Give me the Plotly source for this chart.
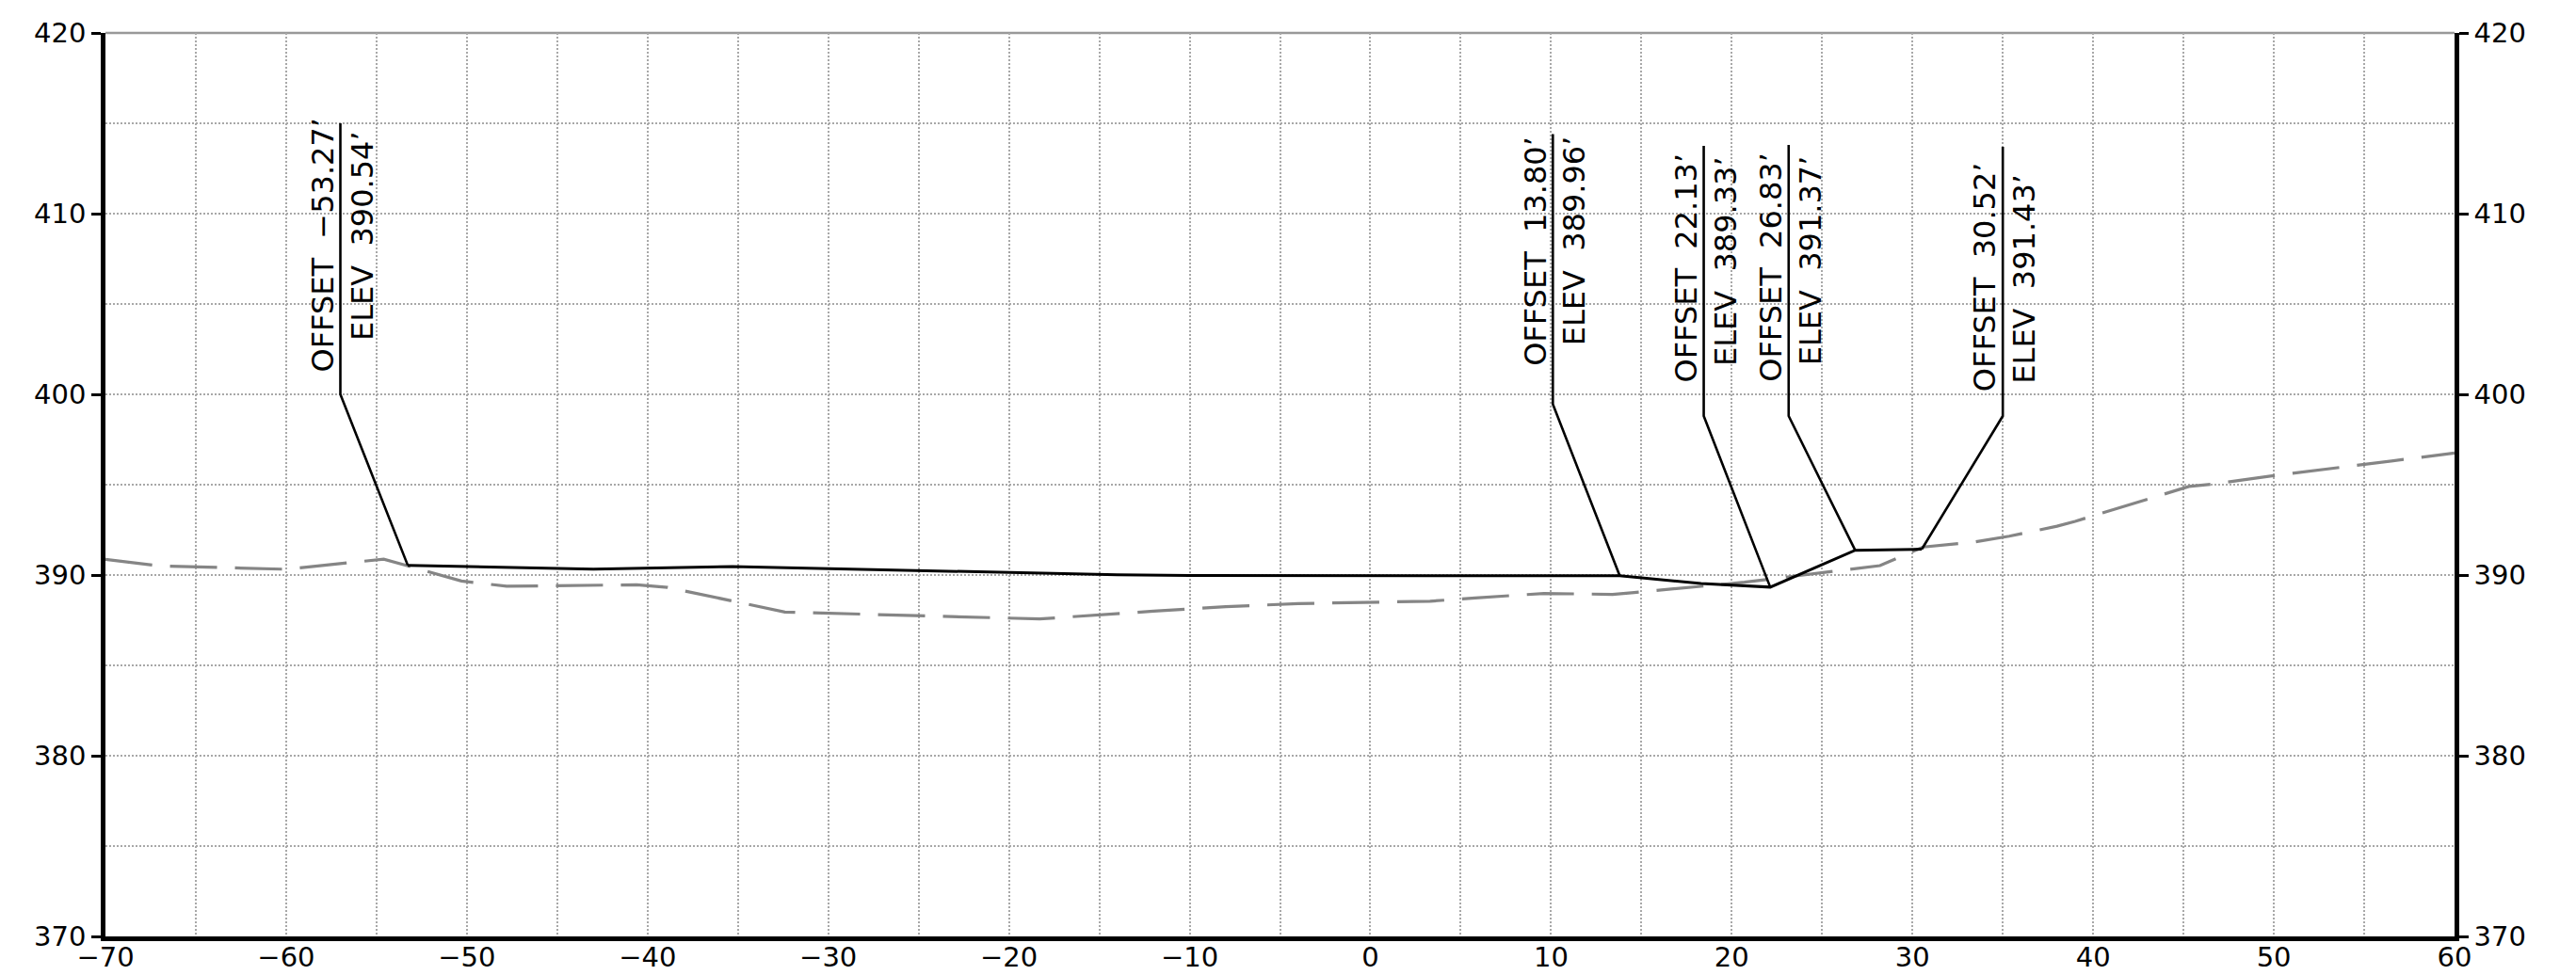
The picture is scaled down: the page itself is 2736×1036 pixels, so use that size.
import plotly.graph_objects as go

# Existing ground profile (dashed grey)
ground_x = [-70, -67, -60, -54.6, -50.3, -47.8, -40.6, -38.9, -32.4, -30, -18.3, -12, -8, -4, 0,
            3.3, 5.8, 9.6, 13.4, 14.6, 20.7, 28.2, 30.6, 33.4, 35.35, 38.0, 39.0, 45.3, 46.5, 50, 60]
ground_y = [390.87, 390.5, 390.32, 390.88, 389.67, 389.38, 389.46, 389.32, 387.95, 387.88, 387.57,
            388.0, 388.25, 388.42, 388.47, 388.55, 388.73, 388.98, 388.93, 389.03, 389.6, 390.52,
            391.55, 391.82, 392.15, 392.7, 392.97, 394.9, 395.02, 395.5, 396.75]

# Design profile (solid black)
design_x = [-53.27, -46, -43, -35.3, -30, -25, -20, -14, -10, 0, 13.80, 18.3, 22.13, 26.83, 30.52]
design_y = [390.54, 390.36, 390.32, 390.47, 390.36, 390.24, 390.12, 390.01, 389.97, 389.95, 389.96,
            389.53, 389.33, 391.37, 391.43]

# Labelled points and their leaders
label_offset = [-53.27, 13.80, 22.13, 26.83, 30.52]
label_elev = [390.54, 389.96, 389.33, 391.37, 391.43]
leader_x = [-57.0, 10.1, 18.45, 23.15, 35.0]
leader_base = [400.0, 399.45, 398.8, 398.8, 398.8]
leader_top = [415.0, 414.4, 413.75, 413.8, 413.7]

x_ticks = list(range(-70, 61, 10))
y_ticks = list(range(370, 421, 10))

# label text placement (pixels below leader top)
offset_text_drop = [-6, 1, 7, 7, 15]
elev_text_drop = [7, 1, 10, 10, 28]

FONT = "DejaVu Sans, Verdana, sans-serif"
GRID = "#a8a8a8"
BODY = 8  # default page margin of the html body


def fmt(v):
    s = f"{v:.2f}"
    return s.replace("-", "\u2212")


fig = go.Figure()

fig.add_trace(go.Scatter(
    x=ground_x, y=ground_y, mode="lines",
    line=dict(color="#858585", width=3.2, dash="50px,19px"),
    showlegend=False, hoverinfo="skip"))

fig.add_trace(go.Scatter(
    x=design_x, y=design_y, mode="lines",
    line=dict(color="black", width=3),
    showlegend=False, hoverinfo="skip"))

lx, ly = [], []
for o, e, x, b, t in zip(label_offset, label_elev, leader_x, leader_base, leader_top):
    lx += [o, x, x, None]
    ly += [e, b, t, None]
fig.add_trace(go.Scatter(
    x=lx, y=ly, mode="lines", line=dict(color="black", width=2.6),
    showlegend=False, hoverinfo="skip"))

# dummy trace for the right-hand axis
fig.add_trace(go.Scatter(x=[None], y=[None], yaxis="y2", showlegend=False, hoverinfo="skip"))

annos = []
for o, e, x, t, d1, d2 in zip(label_offset, label_elev, leader_x, leader_top,
                              offset_text_drop, elev_text_drop):
    annos.append(dict(
        x=x, y=t, xref="x", yref="y", showarrow=False, textangle=-90,
        text="OFFSET\u00a0\u00a0" + fmt(o) + "\u2019",
        xanchor="right", yanchor="top", xshift=1, yshift=-d1, borderpad=0,
        font=dict(family=FONT, size=32, color="black")))
    annos.append(dict(
        x=x, y=t, xref="x", yref="y", showarrow=False, textangle=-90,
        text="ELEV\u00a0\u00a0" + fmt(e) + "\u2019",
        xanchor="left", yanchor="top", xshift=3, yshift=-d2, borderpad=0,
        font=dict(family=FONT, size=32, color="black")))

tickfont = dict(family=FONT, size=29, color="black")

fig.update_layout(
    template="none",
    width=2736 - BODY, height=1036 - BODY,
    margin=dict(l=112 - BODY, r=129, t=35 - BODY, b=41, pad=0),
    paper_bgcolor="white", plot_bgcolor="white",
    showlegend=False,
    annotations=annos,
    shapes=[dict(type="line", xref="paper", yref="paper", x0=0, x1=1, y0=1, y1=1,
                 line=dict(color="#999999", width=2.5), layer="below")],
    xaxis=dict(
        range=[-70, 60], tickvals=x_ticks, ticktext=[fmt(v).split(".")[0] for v in x_ticks],
        showline=True, linecolor="black", linewidth=4.5,
        ticks="", ticklabelstandoff=-8, showgrid=True, gridcolor=GRID, gridwidth=1.5, griddash="2px,2px",
        minor=dict(dtick=5, tick0=0, showgrid=True, gridcolor=GRID, gridwidth=1.5, griddash="2px,2px"),
        zeroline=False, tickfont=tickfont, automargin=False, fixedrange=True),
    yaxis=dict(
        range=[370, 420], tickvals=y_ticks,
        showline=True, linecolor="black", linewidth=4.5,
        ticks="outside", ticklen=10, tickwidth=3, tickcolor="black",
        showgrid=True, gridcolor=GRID, gridwidth=1.5, griddash="2px,2px",
        minor=dict(dtick=5, tick0=0, showgrid=True, gridcolor=GRID, gridwidth=1.5, griddash="2px,2px"),
        zeroline=False, tickfont=tickfont, automargin=False, fixedrange=True),
    yaxis2=dict(
        range=[370, 420], tickvals=y_ticks, overlaying="y", side="right",
        showline=True, linecolor="black", linewidth=4.5,
        ticks="outside", ticklen=10, tickwidth=3, tickcolor="black",
        showgrid=False, zeroline=False, tickfont=tickfont, automargin=False, fixedrange=True),
)

fig.write_html("out.html")
